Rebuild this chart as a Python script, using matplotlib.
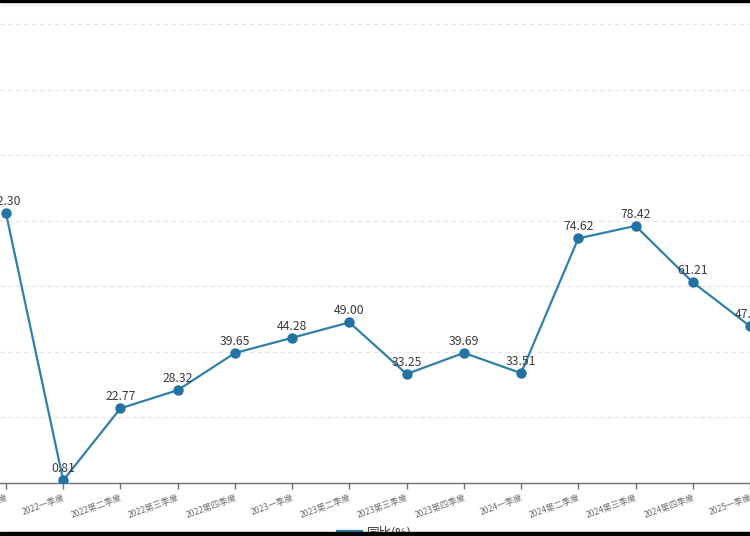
import matplotlib
matplotlib.use("Agg")
import matplotlib.pyplot as plt
from matplotlib.patches import Rectangle
from matplotlib.lines import Line2D

plt.rcParams['font.family'] = ['Noto Sans CJK SC', 'DejaVu Sans']

categories = ["2021第四季度", "2022一季度", "2022第二季度", "2022第三季度", "2022第四季度",
              "2023一季度", "2023第二季度", "2023第三季度", "2023第四季度",
              "2024一季度", "2024第二季度", "2024第三季度", "2024第四季度", "2025一季度"]
values = [82.30, 0.81, 22.77, 28.32, 39.65, 44.28, 49.00, 33.25, 39.69,
          33.51, 74.62, 78.42, 61.21, 47.83]
series_name = "同比(%)"
y_ticks = [20, 40, 60, 80, 100, 120, 140]

W, H = 750, 536
fig = plt.figure(figsize=(W / 100, H / 100), dpi=100)
fig.patch.set_facecolor("white")

bottom_px, top_px = 483, 24
ax = fig.add_axes([0, (H - bottom_px) / H, 1, (bottom_px - top_px) / H])
x0_px, step_px = 6, 57.5
ax.set_xlim(-x0_px / step_px, (W - x0_px) / step_px)
ax.set_ylim(0, 140)

xs = list(range(len(categories)))
line_color = "#2f80a8"
ax.plot(xs, values, color=line_color, lw=1.6, marker="o", markersize=6.5,
        markerfacecolor="#2272a3", markeredgecolor="#2272a3", zorder=3,
        label=series_name)

for x, v in zip(xs, values):
    ax.annotate(f"{v:.2f}", (x, v), xytext=(0, 8.5), textcoords="offset points",
                ha="center", va="center", fontsize=8.8, color="#3a3a3a", zorder=4)

for t in y_ticks:
    ax.axhline(t, color="#e3e3e3", lw=0.8, ls=(0, (4, 3)), zorder=1, clip_on=False)

for s in ["top", "left", "right"]:
    ax.spines[s].set_visible(False)
ax.spines["bottom"].set_color("#6e7079")
ax.spines["bottom"].set_linewidth(1.0)

ax.set_yticks([])
ax.set_xticks(xs)
ax.set_xticklabels(categories, rotation=20, ha="right", va="top",
                   rotation_mode="anchor", fontsize=6.2, color="#707070")
ax.tick_params(axis="x", direction="out", length=4, width=1, color="#6e7079", pad=3)

leg = ax.legend(loc="center", bbox_to_anchor=(0.5, (H - 533) / H),
                bbox_transform=fig.transFigure, frameon=False, fontsize=9,
                handlelength=1.8, handletextpad=0.5, labelcolor="#333333")
for h in leg.get_lines():
    h.set_linewidth(3)
    h.set_marker("")

# screenshot borders
fig.add_artist(Rectangle((0, 0), 1, 4 / H, transform=fig.transFigure,
                         color="black", zorder=10))
fig.add_artist(Rectangle((0, 1 - 1.5 / H), 1, 1.5 / H, transform=fig.transFigure,
                         color="black", zorder=10))
fig.add_artist(Line2D([0, 1], [1 - 5 / H, 1 - 5 / H], transform=fig.transFigure,
                      color="#eeeeee", lw=1, zorder=9))

fig.savefig("out.png", dpi=100, facecolor="white")
